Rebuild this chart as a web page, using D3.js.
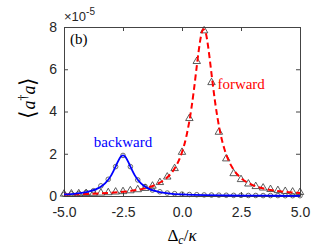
<!DOCTYPE html>
<meta charset="utf-8">
<style>
  body { margin: 0; background: #fff; }
  svg { display: block; }
  .tick text { font-family: "Liberation Sans", Arial, sans-serif; font-size: 14px; fill: #262626; }
  .serif { font-family: "Liberation Serif", "Times New Roman", serif; }
</style>
<svg width="332" height="249"></svg>
<script src="https://d3js.org/d3.v7.min.js"></script>
<script>

// simulation points (markers), x in units of kappa, y in units of 1e-5
var markerX = [-5, -4.6875, -4.375, -4.0625, -3.75, -3.4375, -3.125, -2.8125, -2.5, -2.1875, -1.875,
  -1.5625, -1.25, -0.9375, -0.625, -0.3125, 0, 0.3125, 0.625, 0.9375, 1.25, 1.5625, 1.875,
  2.1875, 2.5, 2.8125, 3.125, 3.4375, 3.75, 4.0625, 4.375, 4.6875, 5];
var forwardPts = [0.07, 0.08, 0.09, 0.10, 0.11, 0.12, 0.14, 0.17, 0.19, 0.23, 0.28,
  0.34, 0.45, 0.62, 0.88, 1.28, 2.05, 3.65, 6.35, 7.8, 5.35, 3.0, 1.74,
  1.04, 0.76, 0.55, 0.43, 0.36, 0.29, 0.24, 0.2, 0.17, 0.15];
var backwardPts = [0.08, 0.10, 0.12, 0.17, 0.25, 0.48, 0.79, 1.39, 1.92, 1.39, 0.76,
  0.45, 0.28, 0.2, 0.14, 0.11, 0.09, 0.07, 0.06, 0.05, 0.045, 0.04, 0.035,
  0.03, 0.03, 0.025, 0.025, 0.02, 0.02, 0.02, 0.015, 0.015, 0.015];

// analytic curves
var forwardX = [-5, -4.5, -4, -3.5, -3, -2.5, -2, -1.5, -1, -0.75, -0.5, -0.25, 0, 0.2, 0.4, 0.5,
  0.6, 0.7, 0.8, 0.9, 1.0, 1.1, 1.2, 1.3, 1.4, 1.6, 1.8, 2.0, 2.25, 2.5, 3, 3.5, 4, 4.5, 5];
var forwardY = [0.067, 0.080, 0.097, 0.119, 0.151, 0.198, 0.268, 0.385, 0.594, 0.767, 1.02, 1.42, 2.07, 2.90, 4.16, 4.98,
  5.90, 6.81, 7.54, 7.89, 7.74, 7.13, 6.26, 5.33, 4.47, 3.11, 2.21, 1.62, 1.15, 0.848, 0.512, 0.341, 0.242, 0.181, 0.140];
var backwardX = [-5, -4.5, -4, -3.5, -3.25, -3, -2.9, -2.8, -2.7, -2.6, -2.5, -2.4, -2.3, -2.2, -2.1, -2,
  -1.75, -1.5, -1, -0.5, 0, 0.5, 1, 2, 3, 4, 5];
var backwardY = [0.077, 0.117, 0.199, 0.396, 0.607, 0.978, 1.19, 1.43, 1.66, 1.85, 1.92, 1.85, 1.66, 1.43, 1.19, 0.978,
  0.607, 0.396, 0.199, 0.117, 0.077, 0.054, 0.040, 0.024, 0.016, 0.012, 0.009];

var xTicks = [-5, -2.5, 0, 2.5, 5];
var yTicks = [0, 2, 4, 6, 8];

var svg = d3.select("svg"),
    margin = {top: 27, right: 32, bottom: 53, left: 64},
    width = 332 - margin.left - margin.right,
    height = 249 - margin.top - margin.bottom;

var x = d3.scaleLinear().domain([-5, 5]).range([0, width]);
var y = d3.scaleLinear().domain([0, 8]).range([height, 0]);

var g = svg.append("g")
    .attr("transform", "translate(" + margin.left + "," + margin.top + ")");

// axes, ticks pointing inward, box all round
function styleAxis(sel) {
  sel.select(".domain").attr("stroke", "#444").attr("stroke-width", 1);
  sel.selectAll(".tick line").attr("stroke", "#444");
}
g.append("g").attr("transform", "translate(0," + height + ")")
    .call(d3.axisBottom(x).tickValues(xTicks).tickFormat(d3.format(".1f")).tickSizeInner(-4).tickSizeOuter(0).tickPadding(11))
    .call(styleAxis)
    .selectAll("text").text(function(d) { return d3.format(".1f")(d).replace("−", "-"); });
g.append("g")
    .call(d3.axisTop(x).tickValues(xTicks).tickFormat("").tickSizeInner(-4).tickSizeOuter(0))
    .call(styleAxis);
g.append("g")
    .call(d3.axisLeft(y).tickValues(yTicks).tickSizeInner(-4).tickSizeOuter(0).tickPadding(7))
    .call(styleAxis);
g.append("g").attr("transform", "translate(" + width + ",0)")
    .call(d3.axisRight(y).tickValues(yTicks).tickFormat("").tickSizeInner(-4).tickSizeOuter(0))
    .call(styleAxis);

// markers
var tri = d3.symbol().type(d3.symbolTriangle).size(24);
g.append("g").selectAll("path")
    .data(markerX.map(function(d, i) { return [d, forwardPts[i]]; }))
  .enter().append("path")
    .attr("d", tri)
    .attr("transform", function(d) { return "translate(" + x(d[0]) + "," + (y(d[1]) - 0.5) + ")"; })
    .attr("fill", "none")
    .attr("stroke", "#333")
    .attr("stroke-width", 0.8);

g.append("g").selectAll("circle")
    .data(markerX.map(function(d, i) { return [d, backwardPts[i]]; }))
  .enter().append("circle")
    .attr("cx", function(d) { return x(d[0]); })
    .attr("cy", function(d) { return y(d[1]); })
    .attr("r", 2.3)
    .attr("fill", "none")
    .attr("stroke", "#444")
    .attr("stroke-width", 0.8);

// curves
var line = d3.line()
    .x(function(d) { return x(d[0]); })
    .y(function(d) { return y(d[1]); })
    .curve(d3.curveMonotoneX);

g.append("path")
    .datum(forwardX.map(function(d, i) { return [d, forwardY[i]]; }))
    .attr("d", line)
    .attr("fill", "none")
    .attr("stroke", "#ff0000")
    .attr("stroke-width", 2)
    .attr("stroke-dasharray", "6,3.5");

g.append("path")
    .datum(backwardX.map(function(d, i) { return [d, backwardY[i]]; }))
    .attr("d", line)
    .attr("fill", "none")
    .attr("stroke", "#0000ff")
    .attr("stroke-width", 1.8);

// labels
g.append("text").attr("class", "serif")
    .attr("x", 6).attr("y", 17)
    .attr("font-size", 15).text("(b)");

g.append("text").attr("class", "serif")
    .attr("x", x(1.5)).attr("y", y(5.05))
    .attr("font-size", 15).attr("fill", "#ff0000").text("forward");

g.append("text").attr("class", "serif")
    .attr("x", x(-2.5)).attr("y", y(2.3))
    .attr("text-anchor", "middle")
    .attr("font-size", 15).attr("fill", "#0000ff").text("backward");

// exponent
var ex = svg.append("text")
    .attr("x", margin.left).attr("y", 21)
    .attr("font-family", "Liberation Sans, Arial, sans-serif")
    .attr("font-size", 13).attr("fill", "#262626");
ex.append("tspan").text("×10");
ex.append("tspan").attr("font-size", 10).attr("dy", -6).text("-5");

// x label
var xl = svg.append("text").attr("class", "serif")
    .attr("x", margin.left + width / 2).attr("y", 241)
    .attr("text-anchor", "middle").attr("font-size", 17);
xl.append("tspan").text("Δ");
xl.append("tspan").attr("font-style", "italic").attr("font-size", 12).attr("dy", 3).text("c");
xl.append("tspan").attr("dy", -3).text("/");
xl.append("tspan").attr("font-style", "italic").text("κ");

// y label
var yl = svg.append("text").attr("class", "serif")
    .attr("transform", "translate(35," + (margin.top + height / 2 - 14) + ") rotate(-90)")
    .attr("text-anchor", "middle").attr("font-size", 18);
yl.append("tspan").attr("font-size", 22).text("⟨");
yl.append("tspan").attr("font-style", "italic").text("a");
yl.append("tspan").attr("font-size", 12).attr("dy", -8).text("†");
yl.append("tspan").attr("font-style", "italic").attr("dy", 8).text("a");
yl.append("tspan").attr("font-size", 22).text("⟩");

</script>
